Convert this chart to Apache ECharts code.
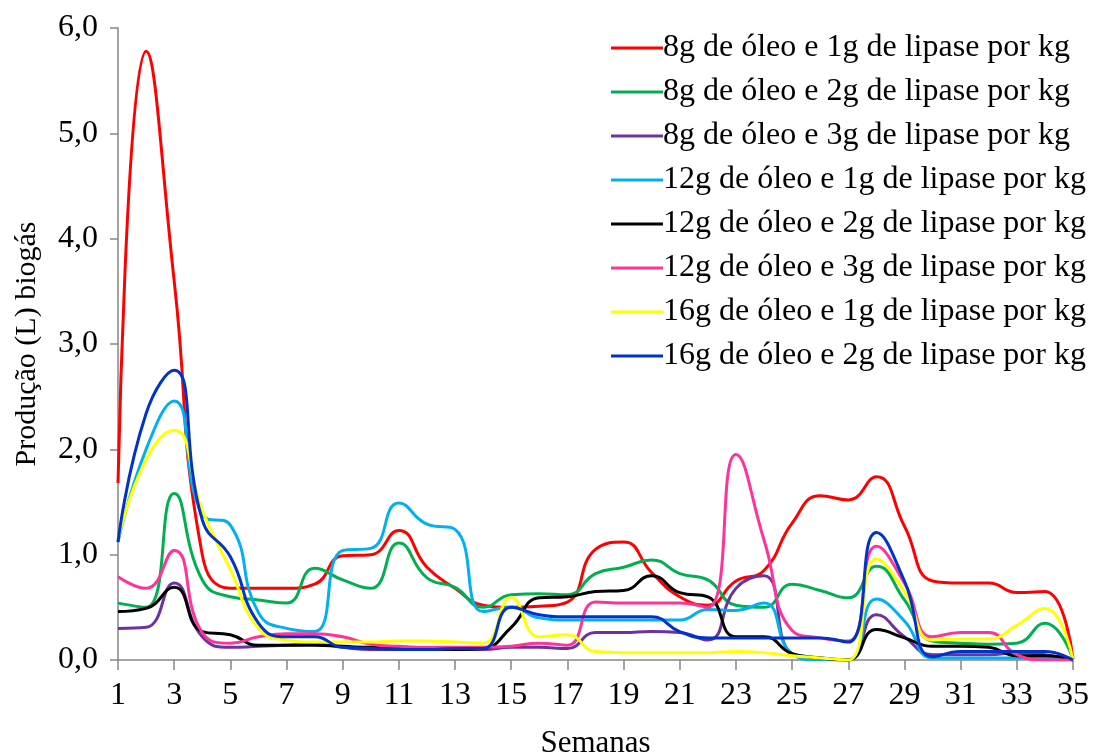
<!DOCTYPE html>
<html>
<head>
<meta charset="utf-8">
<script src="https://cdn.jsdelivr.net/npm/echarts@6/dist/echarts.min.js"></script>
<style>
  html, body { margin: 0; padding: 0; background: #fff; }
  #chart { width: 1098px; height: 753px; }
</style>
</head>
<body>
<div id="chart"></div>
<script>
// semanas 1..35
var semanas = ['1','2','3','4','5','6','7','8','9','10','11','12','13','14','15','16','17','18',
  '19','20','21','22','23','24','25','26','27','28','29','30','31','32','33','34','35'];

var nomes = [
  '8g de óleo e 1g de lipase por kg',
  '8g de óleo e 2g de lipase por kg',
  '8g de óleo e 3g de lipase por kg',
  '12g de óleo e 1g de lipase por kg',
  '12g de óleo e 2g de lipase por kg',
  '12g de óleo e 3g de lipase por kg',
  '16g de óleo e 1g de lipase por kg',
  '16g de óleo e 2g de lipase por kg'
];
var cores = ['#FF0000', '#00B050', '#7030A0', '#00B0F0', '#000000', '#FF3399', '#FFFF00', '#0033CC'];

var oleo8lip1 = [1.68, 5.78, 3.6, 1.0, 0.68, 0.68, 0.68, 0.72, 0.99, 1.0, 1.23, 0.88, 0.68, 0.52, 0.5, 0.51, 0.55, 1.05,
  1.12, 0.83, 0.6, 0.52, 0.75, 0.85, 1.3, 1.56, 1.52, 1.74, 1.27, 0.75, 0.73, 0.73, 0.64, 0.65, 0.01];
var oleo8lip2 = [0.54, 0.5, 1.58, 0.76, 0.6, 0.57, 0.54, 0.87, 0.76, 0.68, 1.11, 0.78, 0.69, 0.5, 0.62, 0.63, 0.62, 0.82,
  0.88, 0.95, 0.82, 0.76, 0.52, 0.5, 0.72, 0.66, 0.59, 0.89, 0.57, 0.18, 0.16, 0.15, 0.16, 0.35, 0.01];
var oleo8lip3 = [0.3, 0.31, 0.73, 0.22, 0.12, 0.13, 0.14, 0.15, 0.12, 0.1, 0.1, 0.1, 0.1, 0.1, 0.12, 0.12, 0.11, 0.26,
  0.26, 0.27, 0.26, 0.19, 0.68, 0.8, 0.06, 0.02, 0.0, 0.43, 0.22, 0.05, 0.05, 0.05, 0.07, 0.05, 0.0];
var oleo12lip1 = [1.12, 2.0, 2.46, 1.38, 1.28, 0.45, 0.3, 0.27, 1.04, 1.06, 1.49, 1.29, 1.24, 0.46, 0.5, 0.4, 0.38, 0.38,
  0.38, 0.38, 0.38, 0.48, 0.47, 0.54, 0.06, 0.0, 0.0, 0.58, 0.37, 0.02, 0.02, 0.02, 0.02, 0.02, 0.0];
var oleo12lip2 = [0.46, 0.49, 0.69, 0.27, 0.24, 0.14, 0.14, 0.14, 0.13, 0.12, 0.12, 0.11, 0.1, 0.11, 0.31, 0.59, 0.6, 0.65,
  0.66, 0.8, 0.64, 0.6, 0.22, 0.22, 0.06, 0.02, 0.0, 0.29, 0.21, 0.13, 0.13, 0.12, 0.04, 0.04, 0.0];
var oleo12lip3 = [0.79, 0.68, 1.04, 0.26, 0.16, 0.22, 0.25, 0.25, 0.22, 0.15, 0.13, 0.12, 0.12, 0.12, 0.13, 0.16, 0.14, 0.55,
  0.54, 0.54, 0.54, 0.5, 1.95, 1.14, 0.28, 0.21, 0.18, 1.08, 0.73, 0.22, 0.26, 0.26, 0.05, 0.0, 0.0];
var oleo16lip1 = [1.14, 1.9, 2.18, 1.42, 0.86, 0.3, 0.19, 0.17, 0.17, 0.17, 0.18, 0.18, 0.17, 0.16, 0.59, 0.22, 0.24, 0.08,
  0.07, 0.07, 0.07, 0.07, 0.08, 0.07, 0.04, 0.02, 0.0, 0.96, 0.65, 0.19, 0.2, 0.2, 0.33, 0.49, 0.0];
var oleo16lip2 = [1.12, 2.34, 2.75, 1.33, 0.98, 0.35, 0.22, 0.22, 0.12, 0.11, 0.1, 0.1, 0.11, 0.11, 0.5, 0.43, 0.41, 0.41,
  0.41, 0.41, 0.27, 0.21, 0.21, 0.21, 0.21, 0.21, 0.17, 1.21, 0.75, 0.03, 0.08, 0.08, 0.08, 0.08, 0.0];

var dados = [oleo8lip1, oleo8lip2, oleo8lip3, oleo12lip1, oleo12lip2, oleo12lip3, oleo16lip1, oleo16lip2];

var fonte = '"Liberation Serif", "Times New Roman", serif';

var series = [];
for (var i = 0; i < dados.length; i++) {
  series.push({
    name: nomes[i],
    type: 'line',
    data: dados[i],
    smooth: 0.5,
    symbol: 'none',
    lineStyle: { width: 3, color: cores[i] },
    itemStyle: { color: cores[i] }
  });
}

var myChart = echarts.init(document.getElementById('chart'));
var option = {
  animation: false,
  backgroundColor: '#fff',
  textStyle: { fontFamily: fonte },
  grid: { left: 118, right: 25, top: 28, bottom: 93, outerBoundsMode: 'none', containLabel: false },
  legend: {
    orient: 'vertical',
    left: 606,
    top: 26,
    icon: 'rect',
    itemWidth: 52,
    itemHeight: 3,
    itemGap: 10,
    textStyle: { fontFamily: fonte, fontSize: 32, color: '#000', lineHeight: 34, padding: [0, 0, 0, -5] },
    data: nomes
  },
  xAxis: {
    type: 'category',
    data: semanas,
    boundaryGap: false,
    name: 'Semanas',
    nameLocation: 'middle',
    nameGap: 68,
    nameTextStyle: { fontFamily: fonte, fontSize: 31, color: '#000' },
    axisLine: { lineStyle: { color: '#868686', width: 1.5 } },
    axisTick: { interval: 1, length: 10, lineStyle: { color: '#868686', width: 1.5 } },
    axisLabel: { interval: 1, margin: 20, fontFamily: fonte, fontSize: 32, color: '#000' },
    splitLine: { show: false }
  },
  yAxis: {
    type: 'value',
    min: 0,
    max: 6,
    interval: 1,
    name: 'Produção (L) biogás',
    nameLocation: 'middle',
    nameGap: 76,
    nameTextStyle: { fontFamily: fonte, fontSize: 30, color: '#000' },
    axisLine: { show: true, lineStyle: { color: '#868686', width: 1.5 } },
    axisTick: { show: true, length: 8, lineStyle: { color: '#868686', width: 1.5 } },
    axisLabel: {
      margin: 20, fontFamily: fonte, fontSize: 32, color: '#000',
      formatter: function (v) { return v.toFixed(1).replace('.', ','); }
    },
    splitLine: { show: false }
  },
  series: series
};
myChart.setOption(option);
</script>
</body>
</html>
